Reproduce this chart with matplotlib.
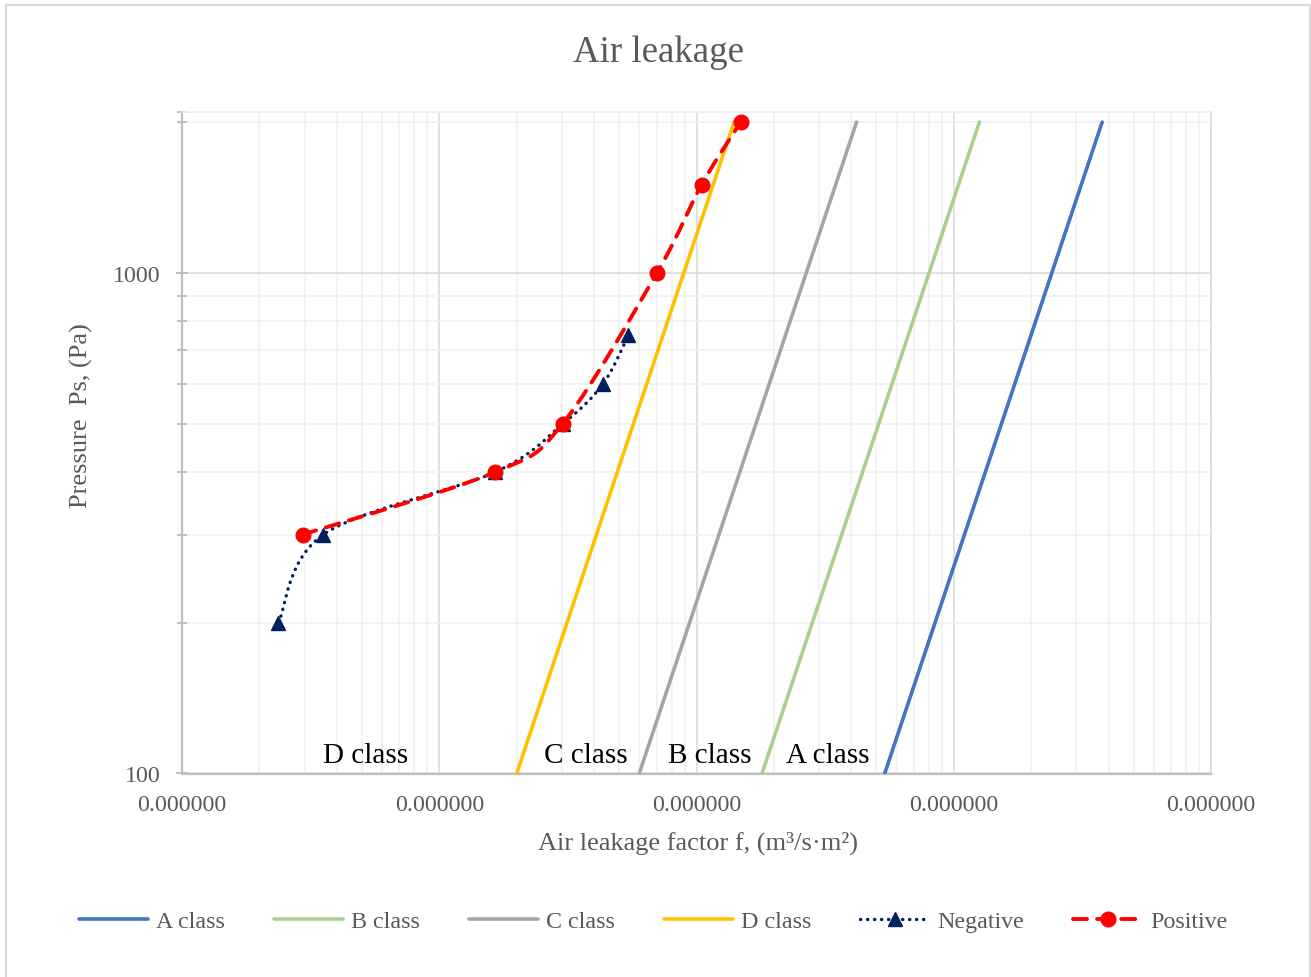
import numpy as np
import matplotlib
matplotlib.use("Agg")
import matplotlib.pyplot as plt
from matplotlib.lines import Line2D
from matplotlib.patches import Rectangle
from matplotlib.ticker import FixedLocator, FixedFormatter, NullFormatter, LogLocator

plt.rcParams['font.family'] = ['Liberation Serif', 'DejaVu Serif']

# ---- data -------------------------------------------------------------
# class limit lines (end points at 100 Pa and 2000 Pa), f in m3/(s*m2)
class_p = [100, 2000]
a_class_f = [5.39e-4, 3.775e-3]
b_class_f = [1.797e-4, 1.258e-3]
c_class_f = [5.99e-5, 4.19e-4]
d_class_f = [2.00e-5, 1.40e-4]

# measured leakage, negative pressure
neg_p = [200, 300, 400, 500, 600, 750]
neg_f = [2.37e-6, 3.54e-6, 1.65e-5, 3.03e-5, 4.33e-5, 5.43e-5]

# measured leakage, positive pressure
pos_p = [300, 400, 500, 1000, 1500, 2000]
pos_f = [2.945e-6, 1.65e-5, 3.02e-5, 7.02e-5, 1.047e-4, 1.485e-4]

x_ticks = [1e-6, 1e-5, 1e-4, 1e-3, 1e-2]
x_tick_labels = ["0.000000", "0.000000", "0.000000", "0.000000", "0.000000"]
y_ticks = [100, 1000]
y_tick_labels = ["100", "1000"]
y_minor = [200, 300, 400, 500, 600, 700, 800, 900, 2000, 2100]

class_names = ["A class", "B class", "C class", "D class"]
class_colors = ["#4472C4", "#A9D18E", "#A5A5A5", "#FFC000"]

# ---- figure -----------------------------------------------------------
W, H = 1311, 978
fig = plt.figure(figsize=(W / 100, H / 100), dpi=100)
fig.patch.set_facecolor("white")

# outer chart border
fig.patches.append(Rectangle((6 / W, -0.02), (1310 - 6) / W, 1.02 - 6 / H,
                             transform=fig.transFigure, fill=False,
                             edgecolor="#d9d9d9", lw=1.5, zorder=0))

ax = fig.add_axes([182 / W, (H - 774.5) / H, 1029 / W, (774.5 - 112.5) / H])
ax.set_xscale("log")
ax.set_yscale("log")
xlim = (1e-6, 1e-2)
ylim = (100, 2100)
ax.set_xlim(*xlim)
ax.set_ylim(*ylim)

grey = "#595959"

# gridlines
ax.set_axisbelow(True)
ax.xaxis.set_major_locator(FixedLocator(x_ticks))
ax.xaxis.set_major_formatter(FixedFormatter(x_tick_labels))
ax.xaxis.set_minor_locator(LogLocator(base=10, subs=np.arange(2, 10)))
ax.xaxis.set_minor_formatter(NullFormatter())
ax.yaxis.set_major_locator(FixedLocator(y_ticks))
ax.yaxis.set_major_formatter(FixedFormatter(y_tick_labels))
ax.yaxis.set_minor_locator(FixedLocator(y_minor))
ax.yaxis.set_minor_formatter(NullFormatter())
ax.grid(which="minor", color="#f0f0f0", lw=1.1)
ax.grid(which="major", color="#d9d9d9", lw=1.1)

for side in ("left", "bottom"):
    ax.spines[side].set_color("#bfbfbf")
    ax.spines[side].set_linewidth(1.6)
ax.spines["top"].set_color("#f0f0f0")
ax.spines["top"].set_linewidth(1.1)
ax.spines["right"].set_color("#d9d9d9")
ax.spines["right"].set_linewidth(1.1)

ax.tick_params(axis="x", which="both", length=0, labelsize=17.3,
               labelcolor=grey, pad=15)
ax.tick_params(axis="y", which="major", direction="inout", length=9,
               width=1.4, color="#bfbfbf", labelsize=17.3, labelcolor=grey,
               pad=11)
ax.tick_params(axis="y", which="minor", direction="inout", length=7,
               width=1.4, color="#bfbfbf")


def smooth_curve(fs, ps, n=40):
    """Bezier-smoothed path through the points, built in screen-proportional
    log space so the curvature looks the same as on screen."""
    kx = ax.bbox.width / (np.log10(xlim[1]) - np.log10(xlim[0]))
    ky = ax.bbox.height / (np.log10(ylim[1]) - np.log10(ylim[0]))
    pts = np.column_stack([np.log10(fs) * kx, np.log10(ps) * ky])
    t = np.linspace(0, 1, n)[:, None]
    out = []
    m = len(pts)
    for i in range(m - 1):
        p0 = pts[max(i - 1, 0)]
        p1 = pts[i]
        p2 = pts[i + 1]
        p3 = pts[min(i + 2, m - 1)]
        c1 = p1 + (p2 - p0) / 6.0
        c2 = p2 - (p3 - p1) / 6.0
        seg = ((1 - t) ** 3 * p1 + 3 * (1 - t) ** 2 * t * c1
               + 3 * (1 - t) * t ** 2 * c2 + t ** 3 * p2)
        out.append(seg if i == 0 else seg[1:])
    out = np.vstack(out)
    return 10 ** (out[:, 0] / kx), 10 ** (out[:, 1] / ky)


# class limit lines
for name, fvals, col in zip(class_names,
                            [a_class_f, b_class_f, c_class_f, d_class_f],
                            class_colors):
    ax.plot(fvals, class_p, color=col, lw=2.6, solid_capstyle="round",
            zorder=3)

# negative series
navy = "#002060"
neg_dots = (0, (0.1, 2.0))
sx, sy = smooth_curve(neg_f, neg_p)
ax.plot(sx, sy, color=navy, lw=2.4, linestyle=neg_dots,
        dash_capstyle="round", zorder=4)
ax.plot(neg_f, neg_p, linestyle="none", marker="^", markersize=10.5,
        color=navy, zorder=5)

# positive series
red = "#FF0000"
pos_dash = (0, (3.6, 2.6))
sx, sy = smooth_curve(pos_f, pos_p)
ax.plot(sx, sy, color=red, lw=2.8, linestyle=pos_dash,
        dash_capstyle="round", zorder=6)
ax.plot(pos_f, pos_p, linestyle="none", marker="o", markersize=10.5,
        color=red, zorder=7)

# class zone labels
for txt, xf in [("D class", 0.1783), ("C class", 0.3926),
                ("B class", 0.5126), ("A class", 0.6278)]:
    ax.text(xf, 0.017, txt, transform=ax.transAxes, ha="center",
            va="baseline", fontsize=21, color="black", zorder=8)

# titles
fig.text(658 / W, 1 - 62 / H, "Air leakage", ha="center", va="baseline",
         fontsize=26.6, color=grey)
fig.text(698 / W, 1 - 850 / H, "Air leakage factor f, (m³/s·m²)",
         ha="center", va="baseline", fontsize=19, color=grey)
fig.text(81 / W, 1 - 416 / H, "Pressure  Ps, (Pa)", ha="center",
         va="center", rotation=90, fontsize=19, color=grey)

# legend
handles = [Line2D([], [], color=c, lw=2.6, solid_capstyle="round")
           for c in class_colors]
handles.append(Line2D([], [], color=navy, lw=2.4, linestyle=neg_dots,
                      dash_capstyle="round", marker="^", markersize=10.5))
handles.append(Line2D([], [], color=red, lw=2.8, linestyle=pos_dash,
                      dash_capstyle="round", marker="o", markersize=10.5))
labels = class_names + ["Negative", "Positive"]
fig.legend(handles, labels, loc="center", bbox_to_anchor=(653 / W, 1 - 922 / H),
           ncol=6, frameon=False, fontsize=17.3, labelcolor=grey,
           handlelength=2.9, handletextpad=0.3, columnspacing=2.05,
           numpoints=1)

fig.savefig("out.png", dpi=100, facecolor="white")
